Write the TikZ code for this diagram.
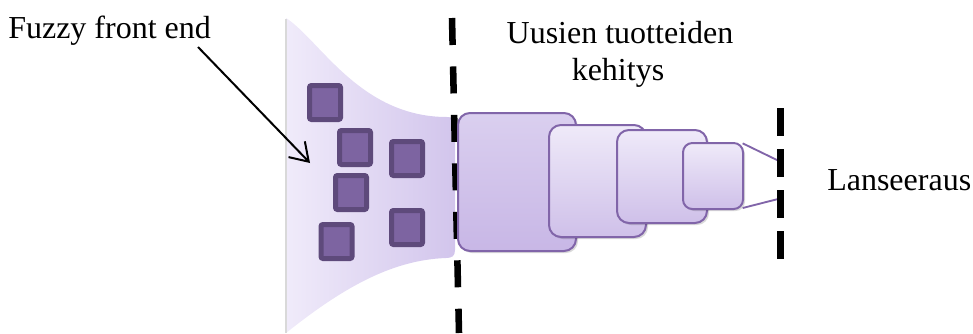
\documentclass[tikz,border=0pt]{standalone}
\usepackage{fontspec}
\setmainfont{Liberation Serif}
\usetikzlibrary{arrows.meta,shadows}
\definecolor{sqfill}{HTML}{7D64A1}
\definecolor{sqdraw}{HTML}{5E4A7B}
\definecolor{boxdraw}{HTML}{8165A9}
\definecolor{funL}{HTML}{F0EBFA}
\definecolor{funR}{HTML}{D2C5EC}
\definecolor{bA}{HTML}{EFEAF9}
\definecolor{bB}{HTML}{CFC0E9}
\definecolor{b1A}{HTML}{DACFEF}
\definecolor{b1B}{HTML}{C8B7E6}
\tikzset{
  lbl/.style={inner sep=0pt, font=\fontsize{24}{28}\selectfont},
  sq/.style={draw=sqdraw, fill=sqfill, line width=3.75pt, rounded corners=1.5pt,
    inner sep=0pt, minimum width=23.25pt, minimum height=25.5pt},
  stage/.style={draw=boxdraw, line width=1.5pt, rounded corners=9pt, inner sep=0pt,
    top color=bA, bottom color=bB,
    drop shadow={shadow xshift=1.5pt, shadow yshift=-1.5pt, opacity=0.15, fill=black}},
  dashA/.style={line width=4.9pt, dash pattern=on 20.25pt off 16.1pt},
  dashB/.style={line width=4.9pt, dash pattern=on 21pt off 9.75pt},
  link/.style={draw=boxdraw, line width=1.4pt},
  pointer/.style={line width=1.5pt, -{Straight Barb[length=13pt, width=17pt, line width=1.5pt]}}
}
\begin{document}
\begin{tikzpicture}[x=0.75pt, y=-0.75pt]
\useasboundingbox (0,0) rectangle (973,333);
% funnel
\shade[left color=funL, right color=funR]
  (286,18) .. controls (320,40) and (360,117) .. (447,117)
  .. controls (453,117) and (455,119) .. (455,125) -- (455,250)
  .. controls (455,256) and (452,258) .. (446,258)
  .. controls (390,260) and (340,290) .. (286,333) -- cycle;
\draw[black!15, line width=1pt] (286,19) -- (286,333);
% squares
\node[sq] (s1) at (325,102.5) {};
\node[sq] (s2) at (355,147.5) {};
\node[sq] (s3) at (407,158.5) {};
\node[sq] (s4) at (351,192.5) {};
\node[sq] (s5) at (336.5,241.5) {};
\node[sq] (s6) at (407,227.5) {};
% dashed line 1
\coordinate (d1a) at (452,18);
\coordinate (d1b) at (459,333);
\draw[dashA] (d1a) -- (d1b);
% stages
\node[stage, top color=b1A, bottom color=b1B, minimum width=88.5pt, minimum height=103.5pt] (b1) at (517,182) {};
\node[stage, minimum width=72.75pt, minimum height=84pt] (b2) at (597.5,181) {};
\node[stage, minimum width=67.5pt, minimum height=69.75pt] (b3) at (662,176.5) {};
\node[stage, rounded corners=7pt, minimum width=45pt, minimum height=49.5pt] (b4) at (713,176) {};
% links to launch line
\coordinate (l1) at (779,161);
\coordinate (l2) at (782,198);
\draw[link] ([xshift=-1pt,yshift=-1pt]b4.north east) -- (l1);
\draw[link] ([xshift=-1pt,yshift=1.5pt]b4.south east) -- (l2);
% dashed line 2
\coordinate (d2a) at (780.5,108);
\coordinate (d2b) at (780.5,260);
\draw[dashB] (d2a) -- (d2b);
% labels
\node[lbl, anchor=base west] (ffe) at (8,38) {Fuzzy front end};
\node[lbl, anchor=base] (ut1) at (620,43) {Uusien tuotteiden};
\node[lbl, anchor=base] (ut2) at (618,80) {kehitys};
\node[lbl, anchor=base west] (lan) at (827,190) {Lanseeraus};
% arrow
\coordinate (as) at (198,47);
\coordinate (ae) at (310,163);
\draw[pointer] (as) -- (ae);
\end{tikzpicture}
\end{document}
